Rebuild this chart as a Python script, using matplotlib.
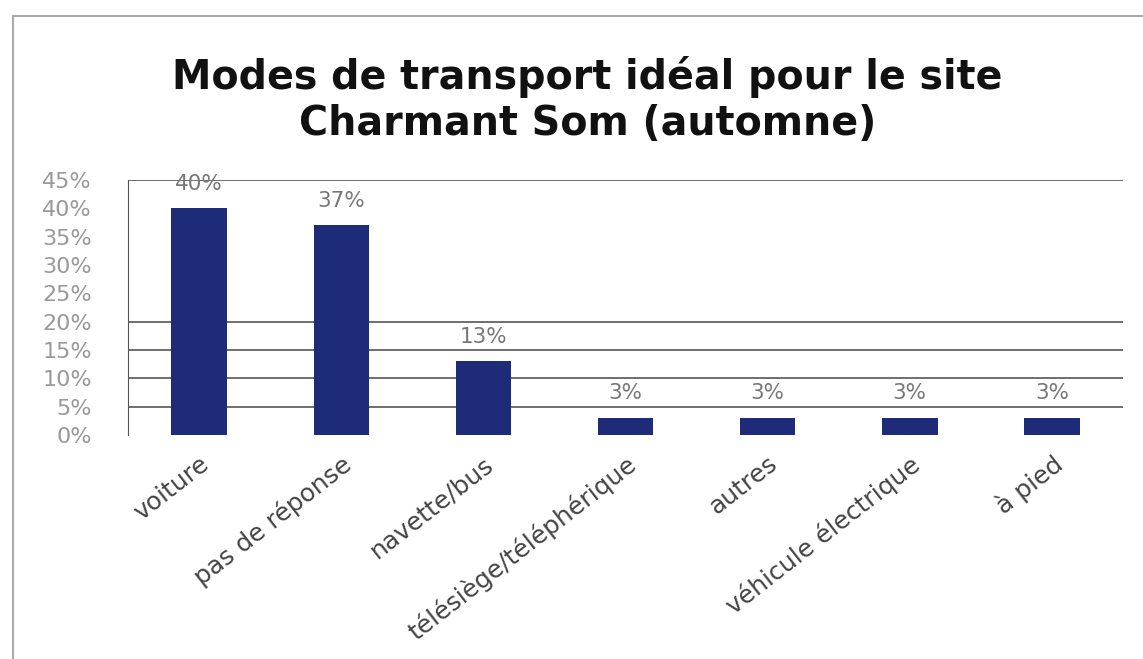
import matplotlib
matplotlib.use("Agg")
import matplotlib.pyplot as plt
from matplotlib.ticker import FixedLocator, FuncFormatter

categories = ["voiture", "pas de réponse", "navette/bus", "télésiège/téléphérique",
              "autres", "véhicule électrique", "à pied"]
values = [40, 37, 13, 3, 3, 3, 3]
value_labels = ["40%", "37%", "13%", "3%", "3%", "3%", "3%"]
yticks = [0, 5, 10, 15, 20, 25, 30, 35, 40, 45]
gridvals = [5, 10, 15, 20, 45]
title = "Modes de transport idéal pour le site\nCharmant Som (automne)"

fig = plt.figure(figsize=(11.43, 6.59), dpi=100)
ax = fig.add_axes([0.112, 0.34, 0.8705, 0.387])

x = list(range(len(categories)))
ax.bar(x, values, width=0.39, color="#1d2b79", zorder=3)
for g in gridvals:
    ax.axhline(g, color="#555555", lw=1.2, zorder=1)

ax.set_xlim(-0.5, len(categories) - 0.5)
ax.set_ylim(0, 45)
ax.yaxis.set_major_locator(FixedLocator(yticks))
ax.yaxis.set_major_formatter(FuncFormatter(lambda v, p: f"{int(v)}%"))
ax.set_xticks(x)
ax.set_xticklabels(categories, rotation=38, ha="right", rotation_mode="anchor",
                   fontsize=18, color="#444444", family="DejaVu Sans")
ax.tick_params(axis="x", length=0, pad=12)
ax.tick_params(axis="y", length=0, labelsize=16, colors="#999999", pad=26)
for s in ["top", "right", "bottom"]:
    ax.spines[s].set_visible(False)
ax.spines["left"].set_color("#555555")

for xi, v, lab in zip(x, values, value_labels):
    ax.text(xi, v + 2.6, lab, ha="center", va="bottom", fontsize=15.5, color="#777777")

fig.text(0.514, 0.848, title, ha="center", va="center", fontsize=28.5,
         fontweight="bold", family="DejaVu Sans", linespacing=1.2, color="#111111")

fig.patches.append(plt.Rectangle((0.011, -0.01), 0.99, 0.985, transform=fig.transFigure,
                                 fill=False, edgecolor="#aaaaaa", lw=1.5))

fig.savefig("out.png", dpi=100)
